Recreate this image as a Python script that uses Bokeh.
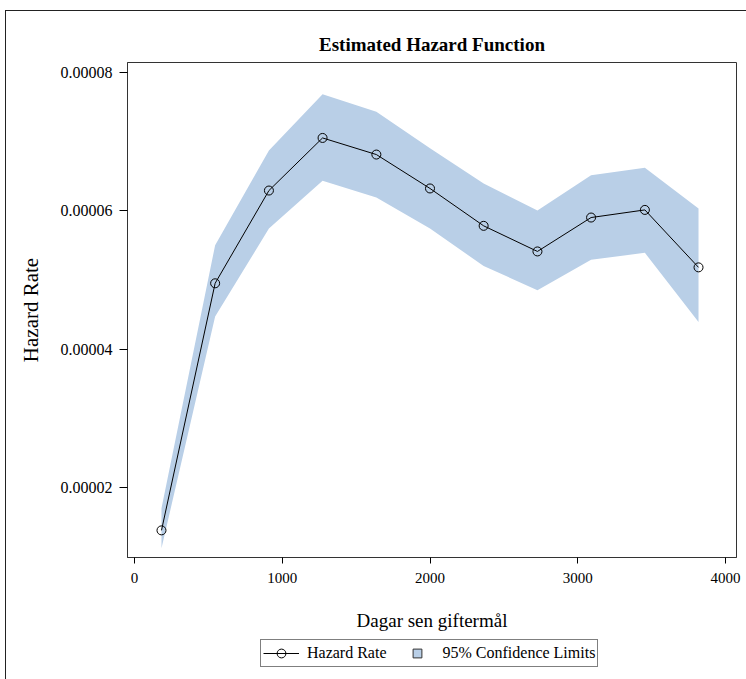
from bokeh.plotting import figure
from bokeh.layouts import column
from bokeh.models import (Range1d, FixedTicker, PrintfTickFormatter, Legend,
                          LegendItem, ColumnDataSource)
from bokeh.embed import file_html
from bokeh.resources import INLINE

# ---- data ----
days = [183, 546, 910, 1273, 1637, 2000, 2363, 2727, 3090, 3454, 3817]
hazard = [1.38e-5, 4.95e-5, 6.29e-5, 7.05e-5, 6.81e-5, 6.32e-5,
          5.78e-5, 5.41e-5, 5.90e-5, 6.01e-5, 5.18e-5]
upper = [1.70e-5, 5.50e-5, 6.87e-5, 7.68e-5, 7.43e-5, 6.90e-5,
         6.39e-5, 6.00e-5, 6.51e-5, 6.62e-5, 6.03e-5]
lower = [1.12e-5, 4.47e-5, 5.74e-5, 6.43e-5, 6.19e-5, 5.74e-5,
         5.20e-5, 4.85e-5, 5.29e-5, 5.39e-5, 4.39e-5]
x_ticks = [0, 1000, 2000, 3000, 4000]
y_ticks = [0.00002, 0.00004, 0.00006, 0.00008]

title_text = "Estimated Hazard Function"
x_label = "Dagar sen giftermål"
y_label = "Hazard Rate"
legend_labels = ["Hazard Rate", "95% Confidence Limits"]

FONT = "Liberation Serif"
BAND = "#B9CFE7"

src = ColumnDataSource(dict(days=days, hazard=hazard, upper=upper, lower=lower))

# ---------------- main chart ----------------
p = figure(width=740, height=625, output_backend="svg", toolbar_location=None,
           x_range=Range1d(-47, 4074), y_range=Range1d(0.00000988, 0.0000814),
           min_border_left=121, min_border_right=10, min_border_top=51,
           min_border_bottom=79, title=title_text,
           background_fill_color="white", border_fill_color="white")

p.title.text_font = FONT
p.title.text_font_size = "19px"
p.title.text_font_style = "bold"
p.title.align = "center"
p.title.standoff = 15
p.title.text_color = "black"

p.xgrid.visible = False
p.ygrid.visible = False
p.outline_line_color = "#333333"
p.outline_line_width = 1

band = p.varea(x="days", y1="lower", y2="upper", source=src, fill_color=BAND)
ln = p.line(x="days", y="hazard", source=src, line_color="black", line_width=1)
pts = p.scatter(x="days", y="hazard", source=src, marker="circle", size=9,
                fill_color=None, line_color="black", line_width=1)

xa = p.xaxis[0]
xa.ticker = FixedTicker(ticks=x_ticks)
xa.axis_label = x_label
xa.axis_label_text_font = FONT
xa.axis_label_text_font_size = "19px"
xa.axis_label_text_font_style = "normal"
xa.axis_label_text_color = "black"
xa.axis_label_standoff = 24
xa.major_label_text_font = FONT
xa.major_label_text_font_size = "15px"
xa.major_label_text_color = "black"
xa.major_label_standoff = 9
xa.major_tick_out = 6
xa.major_tick_in = 0
xa.minor_tick_out = 0
xa.minor_tick_in = 0
xa.axis_line_color = "#333333"

ya = p.yaxis[0]
ya.ticker = FixedTicker(ticks=y_ticks)
ya.formatter = PrintfTickFormatter(format="%.5f")
ya.axis_label = y_label
ya.axis_label_text_font = FONT
ya.axis_label_text_font_size = "21px"
ya.axis_label_text_font_style = "normal"
ya.axis_label_text_color = "black"
ya.axis_label_standoff = 15
ya.major_label_text_font = FONT
ya.major_label_text_font_size = "16px"
ya.major_label_text_color = "black"
ya.major_label_standoff = 7
ya.major_tick_out = 8
ya.major_tick_in = 0
ya.minor_tick_out = 0
ya.minor_tick_in = 0
ya.axis_line_color = "#333333"

# ---------------- legend strip ----------------
lg = figure(width=740, height=43, output_backend="svg", toolbar_location=None,
            x_range=Range1d(0, 1), y_range=Range1d(0, 1),
            x_axis_location=None, y_axis_location=None, min_border=0,
            background_fill_color="white", border_fill_color="white")
lg.outline_line_color = None
lg.xgrid.visible = False
lg.ygrid.visible = False
# legend-only renderers (their data lies outside this strip's ranges)
lg_ln = lg.line(x="days", y="hazard", source=src, line_color="black", line_width=1)
lg_pts = lg.scatter(x="days", y="hazard", source=src, marker="circle",
                    fill_color=None, line_color="black", line_width=1)
lg_sq = lg.scatter(x="days", y="hazard", source=src, marker="square",
                   fill_color=BAND, line_color="#333333", line_width=1)

legend = Legend(items=[LegendItem(label=legend_labels[0], renderers=[lg_ln, lg_pts]),
                       LegendItem(label=legend_labels[1], renderers=[lg_sq])],
                orientation="horizontal", location=(133, 12),
                border_line_color="black", border_line_width=1,
                label_text_font=FONT, label_text_font_size="16px",
                label_text_color="black",
                glyph_width=36, glyph_height=22, label_height=20,
                padding=2, spacing=12, label_standoff=8, margin=0)
lg.add_layout(legend, "center")

layout = column(p, lg, spacing=0, margin=(10, 0, 0, 5),
                styles={"border-top": "1px solid #222222",
                        "border-left": "1px solid #222222"})

open("out.html", "w").write(file_html(layout, INLINE))
